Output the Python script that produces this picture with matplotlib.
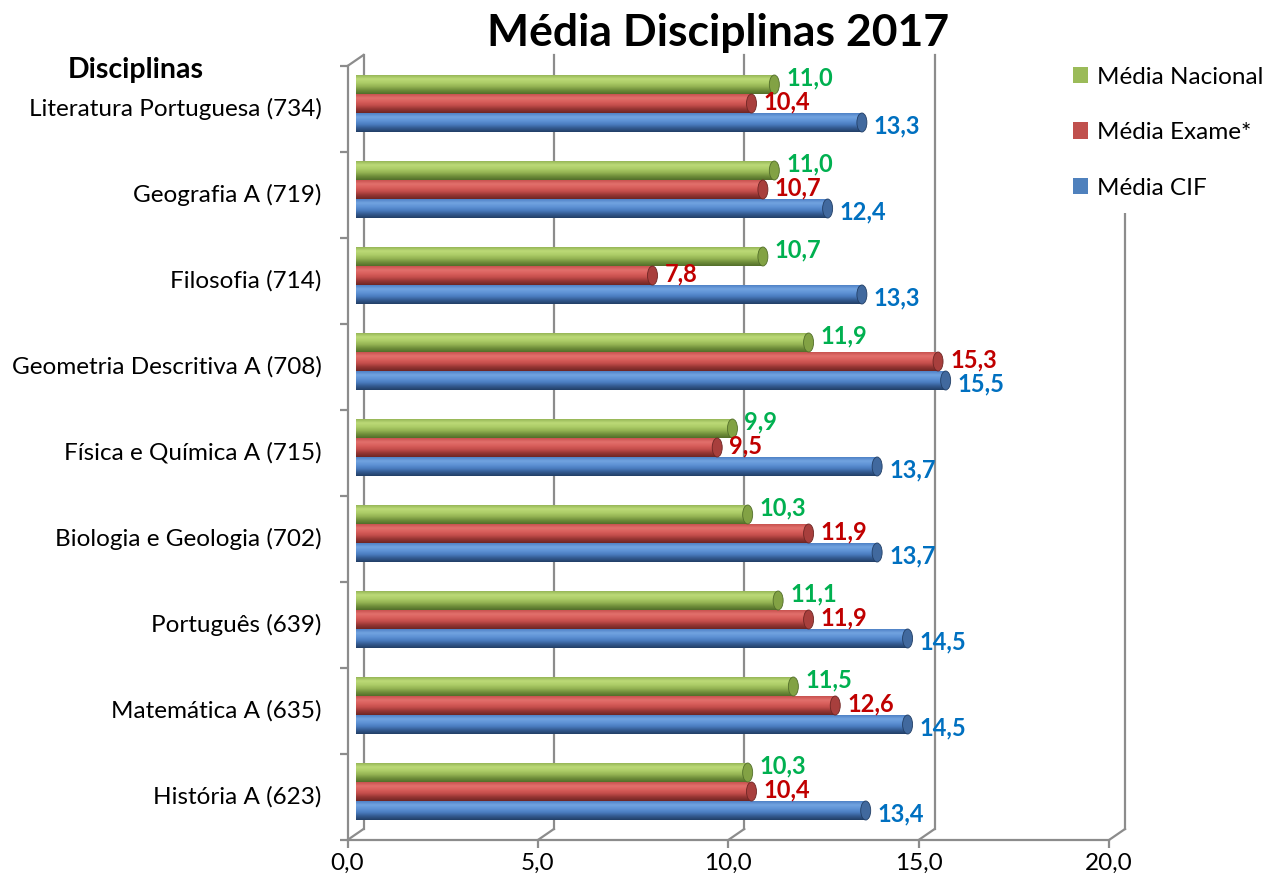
import matplotlib
matplotlib.use("Agg")
import matplotlib.pyplot as plt
import numpy as np
from matplotlib.path import Path
from matplotlib.patches import PathPatch, Ellipse, Patch
from matplotlib.colors import to_rgb

plt.rcParams['font.family'] = ['Lato', 'DejaVu Sans']

# data (bottom to top)
disciplinas = ['História A (623)', 'Matemática A (635)', 'Português (639)',
               'Biologia e Geologia (702)', 'Física e Química A (715)',
               'Geometria Descritiva A (708)', 'Filosofia (714)',
               'Geografia A (719)', 'Literatura Portuguesa (734)']
media_cif = [13.4, 14.5, 14.5, 13.7, 13.7, 15.5, 13.3, 12.4, 13.3]
media_exame = [10.4, 12.6, 11.9, 11.9, 9.5, 15.3, 7.8, 10.7, 10.4]
media_nacional = [10.3, 11.5, 11.1, 10.3, 9.9, 11.9, 10.7, 11.0, 11.0]
xticks = [0, 5, 10, 15, 20]

W, H = 1269, 886
fig = plt.figure(figsize=(W / 100, H / 100), dpi=100)
x0, x1, ytop, ybot = 355.5, 1117, 60.5, 834.5
ax = fig.add_axes([x0 / W, (H - ybot) / H, (x1 - x0) / W, (ybot - ytop) / H])
ax.axis('off')

pxx = (x1 - x0) / 20.0
pxy = (ybot - ytop) / 9.0
dx, dy = 8 / pxx, 5.5 / pxy   # half depth of the 3d box
gray = '#8c8c8c'
lw = 1.6

# back wall
for x in xticks:
    ax.plot([x + dx, x + dx], [-0.5 + dy, 8.5 + dy], color=gray, lw=lw, clip_on=False, zorder=1)
    ax.plot([x - dx, x + dx], [-0.5 - dy, -0.5 + dy], color=gray, lw=lw, clip_on=False, zorder=1)
# front frame
ax.plot([-dx, 20 - dx], [-0.5 - dy, -0.5 - dy], color=gray, lw=lw, clip_on=False, zorder=1)
ax.plot([-dx, -dx], [-0.5 - dy, 8.5 - dy], color=gray, lw=lw, clip_on=False, zorder=1)
ax.plot([-dx, dx], [8.5 - dy, 8.5 + dy], color=gray, lw=lw, clip_on=False, zorder=1)
ax.plot(np.array(xticks) - dx, [-0.5 - dy] * len(xticks), ls='none', marker=3, ms=6,
        mew=lw, color=gray, clip_on=False)
ax.plot([-dx] * 10, np.arange(-0.5, 9, 1) - dy, ls='none', marker=0, ms=6,
        mew=lw, color=gray, clip_on=False)

h = 19 / pxy
capw = 5 / pxx
# values, offset, gradient (top -> bottom), cap colour, label colour, label lift (px)
series = [
    (media_cif, -h, ['#4f82c6', '#72a3e0', '#5f93d6', '#4a7cbf', '#33598f', '#223f66'],
     '#41699e', '#0070C0', -3),
    (media_exame, 0.0, ['#c8524f', '#e2706c', '#d95f5c', '#c24d4a', '#933533', '#6e2624'],
     '#a83f3d', '#C00000', 2),
    (media_nacional, h, ['#96b657', '#bcda77', '#adcd68', '#95b454', '#6f8e3a', '#526e2a'],
     '#82a244', '#00B050', 7),
]

for vals, off, stops, capc, txtc, lift in series:
    rgb = np.array([to_rgb(c) for c in stops])
    pos = np.linspace(0, 1, len(stops))
    t = np.linspace(0, 1, 64)
    grad = np.stack([np.interp(t, pos, rgb[:, k]) for k in range(3)], axis=-1)[:, None, :]
    for i, v in enumerate(vals):
        yc = i + off
        yb, yt = yc - h / 2, yc + h / 2
        th = np.linspace(np.pi / 2, 3 * np.pi / 2, 20)
        left = np.column_stack([capw * 0.6 * np.cos(th), yc + h / 2 * np.sin(th)])
        verts = np.vstack([[[v, yt]], left, [[v, yb]], [[v, yt]]])
        body = PathPatch(Path(verts), fc='none', ec='none')
        ax.add_patch(body)
        im = ax.imshow(grad, extent=[-capw, v, yb, yt], aspect='auto', origin='upper',
                       interpolation='bilinear', zorder=2)
        im.set_clip_path(body)
        ax.add_patch(Ellipse((v, yc), 2 * capw, h, fc=capc, ec=stops[-1], lw=0.6, zorder=3))
        ax.text(v + 12 / pxx, yc + lift / pxy, f'{v:.1f}'.replace('.', ','), color=txtc,
                fontsize=17, fontweight='bold', ha='left', va='center', zorder=4)

for i, name in enumerate(disciplinas):
    ax.text(-dx - 26 / pxx, i - dy, name, ha='right', va='center', fontsize=17.5)
for x in xticks:
    ax.text(x - dx, -0.5 - dy - 23 / pxy, f'{x:.1f}'.replace('.', ','), ha='center',
            va='center', fontsize=17.5)

ax.set_xlim(0, 20)
ax.set_ylim(-0.5, 8.5)

fig.text(718 / W, 1 - 33 / H, 'Média Disciplinas 2017', ha='center', va='center',
         fontsize=32, fontweight='bold')
fig.text(68 / W, 1 - 70 / H, 'Disciplinas', ha='left', va='center', fontsize=20.5,
         fontweight='bold')

handles = [Patch(fc='#9BBB59', ec='none'), Patch(fc='#C0504D', ec='none'),
           Patch(fc='#4F81BD', ec='none')]
leg = fig.legend(handles, ['Média Nacional', 'Média Exame*', 'Média CIF'],
                 loc='upper left', bbox_to_anchor=(1058 / W, 1 - 52 / H), fontsize=17.5,
                 frameon=True, fancybox=False, edgecolor='none', facecolor='white',
                 framealpha=1, handlelength=0.65, handleheight=0.65, handletextpad=0.35,
                 labelspacing=1.42, borderpad=0.6, borderaxespad=0)

fig.savefig('out.png', dpi=100)
